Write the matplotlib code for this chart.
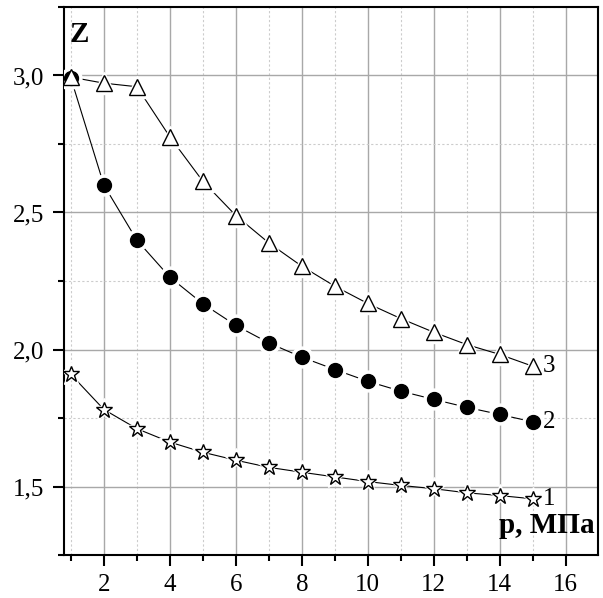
import numpy as np
import matplotlib.pyplot as plt
from matplotlib.ticker import MultipleLocator, FuncFormatter

# pressure, MPa
p = np.arange(1, 16)

# compressibility factor curves
z1 = [1.909, 1.781, 1.711, 1.662, 1.625, 1.596, 1.570, 1.552, 1.535, 1.518,
      1.504, 1.492, 1.477, 1.467, 1.455]
z2 = [2.99, 2.600, 2.399, 2.264, 2.167, 2.088, 2.024, 1.972, 1.927, 1.884,
      1.848, 1.818, 1.789, 1.763, 1.736]
z3 = [2.994, 2.972, 2.959, 2.776, 2.614, 2.489, 2.389, 2.304, 2.231, 2.168,
      2.113, 2.063, 2.018, 1.982, 1.939]
curve_labels = ['1', '2', '3']

plt.rcParams['font.family'] = ['Liberation Serif', 'DejaVu Serif']

fig = plt.figure(figsize=(6.03, 5.98), dpi=100)
ax = fig.add_axes([0.1061, 0.0719, 0.8856, 0.9164])

series = [
    (z1, '*', 'white', 12),
    (z2, 'o', 'black', 10),
    (z3, '^', 'white', 11),
]

for z, marker, face, ms in series:
    ax.plot(p, z, color='black', lw=0.8, zorder=3)
    # white halo so the connecting line stops short of each marker
    ax.plot(p, z, ls='none', marker=marker, ms=ms + 5, mfc='white',
            mec='white', zorder=4)
    ax.plot(p, z, ls='none', marker=marker, ms=ms, mfc=face,
            mec='black', mew=1.0, zorder=5)

for z, lab in zip([z1, z2, z3], curve_labels):
    ax.annotate(lab, xy=(p[-1], z[-1]), xytext=(7, 0),
                textcoords='offset points', va='center', ha='left',
                fontsize=18)

ax.set_xlim(0.79, 16.98)
ax.set_ylim(1.25, 3.25)

ax.xaxis.set_major_locator(MultipleLocator(2))
ax.xaxis.set_minor_locator(MultipleLocator(1))
ax.yaxis.set_major_locator(MultipleLocator(0.5))
ax.yaxis.set_minor_locator(MultipleLocator(0.25))
ax.yaxis.set_major_formatter(FuncFormatter(lambda v, pos: f'{v:.1f}'.replace('.', ',')))

ax.grid(which='major', color='#a8a8a8', lw=1.0, ls='-', zorder=0)
ax.grid(which='minor', color='#cccccc', lw=0.8, ls=(0, (2, 2)), zorder=0)
ax.set_axisbelow(True)

ax.tick_params(which='major', direction='out', length=8, width=1.5,
               labelsize=18, pad=6)
ax.tick_params(which='minor', direction='out', length=4, width=1.5)
for s in ax.spines.values():
    s.set_linewidth(1.5)

ax.text(0.01, 0.975, 'Z', transform=ax.transAxes, fontsize=21,
        fontweight='bold', va='top', ha='left')
ax.text(0.993, 0.03, 'p, МПа', transform=ax.transAxes, fontsize=21,
        fontweight='bold', va='bottom', ha='right')

fig.savefig('out.png', dpi=100)
